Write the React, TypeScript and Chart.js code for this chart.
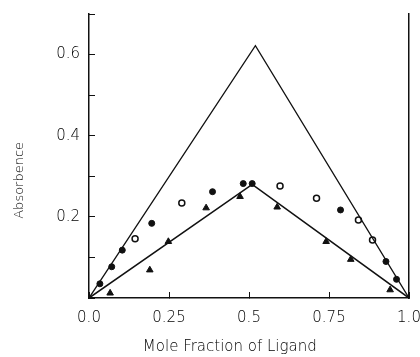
import React, { useEffect, useRef } from "react";
import { Chart, registerables } from "chart.js";

Chart.register(...registerables);

// Job's plot data (mole fraction of ligand vs absorbance)
const upperLineX = [0, 0.52, 1.0];
const upperLineY = [0, 0.622, 0];
const lowerLineX = [0, 0.51, 1.0];
const lowerLineY = [0, 0.28, 0];

const filledCircleX = [0.034, 0.071, 0.104, 0.196, 0.386, 0.482, 0.51, 0.786, 0.928, 0.961];
const filledCircleY = [0.035, 0.077, 0.118, 0.184, 0.262, 0.282, 0.282, 0.217, 0.09, 0.046];

const openCircleX = [0.144, 0.29, 0.597, 0.711, 0.842, 0.886];
const openCircleY = [0.146, 0.234, 0.276, 0.246, 0.192, 0.143];

const triangleX = [0.066, 0.19, 0.248, 0.366, 0.472, 0.588, 0.741, 0.818, 0.941];
const triangleY = [0.012, 0.069, 0.139, 0.222, 0.25, 0.224, 0.139, 0.095, 0.02];

const xTickValues = [0, 0.25, 0.5, 0.75, 1.0];
const xTickLabels = ["0.0", "0.25", "0.5", "0.75", "1.0"];
const yTickLabels: Record<string, string> = { "0.2": "0.2", "0.4": "0.4", "0.6": "0.6" };

const xTitle = "Mole Fraction of Ligand";
const yTitle = "Absorbence";

const FONT = "'DejaVu Sans', sans-serif";
const INK = "#111111";
const TEXT = "#000000";

const pts = (xs: number[], ys: number[]) => xs.map((x, i) => ({ x, y: ys[i] }));

const zeroPad = (s: any) => {
  s.paddingLeft = 0;
  s.paddingRight = 0;
  s.paddingTop = 0;
  s.paddingBottom = 0;
};

const titlePlugin = {
  id: "customTitles",
  afterDraw(chart: any) {
    const ctx = chart.ctx;
    const xs = chart.scales.x;
    const ys = chart.scales.y;
    const area = chart.chartArea;
    ctx.save();
    ctx.fillStyle = TEXT;
    ctx.font = `200 15px ${FONT}`;
    ctx.textAlign = "center";
    ctx.textBaseline = "middle";
    ctx.fillText(xTitle, xs.getPixelForValue(0.44), area.bottom + 49);
    ctx.translate(20, ys.getPixelForValue(0.29));
    ctx.rotate(-Math.PI / 2);
    ctx.font = `200 13px ${FONT}`;
    ctx.fillText(yTitle, 0, 0);
    ctx.restore();
  },
};

export default function App() {
  const ref = useRef<HTMLCanvasElement | null>(null);

  useEffect(() => {
    if (!ref.current) return;
    const chart = new Chart(ref.current, {
      type: "scatter",
      data: {
        datasets: [
          {
            data: pts(upperLineX, upperLineY),
            showLine: true,
            borderColor: INK,
            borderWidth: 1.3,
            pointRadius: 0,
            tension: 0,
          },
          {
            data: pts(lowerLineX, lowerLineY),
            showLine: true,
            borderColor: INK,
            borderWidth: 1.6,
            pointRadius: 0,
            tension: 0,
          },
          {
            data: pts(filledCircleX, filledCircleY),
            pointStyle: "circle",
            pointRadius: 3,
            backgroundColor: INK,
            borderColor: INK,
            borderWidth: 1,
          },
          {
            data: pts(openCircleX, openCircleY),
            pointStyle: "circle",
            pointRadius: 3,
            backgroundColor: "#ffffff",
            borderColor: INK,
            borderWidth: 1.5,
          },
          {
            data: pts(triangleX, triangleY),
            pointStyle: "triangle",
            pointRadius: 3.8,
            backgroundColor: INK,
            borderColor: INK,
            borderWidth: 1,
          },
        ],
      },
      plugins: [titlePlugin],
      options: {
        responsive: false,
        animation: false,
        events: [],
        layout: { padding: { top: 14, right: 0, bottom: 0, left: 0 } },
        plugins: { legend: { display: false }, tooltip: { enabled: false } },
        scales: {
          x: {
            type: "linear",
            min: 0,
            max: 1,
            afterFit: (s: any) => {
              s.height = 59;
              zeroPad(s);
            },
            afterBuildTicks: (s: any) => {
              s.ticks = xTickValues.map((v) => ({ value: v }));
            },
            ticks: {
              color: TEXT,
              font: { family: FONT, size: 15, weight: "200" },
              padding: 17,
              maxRotation: 0,
              autoSkip: false,
              callback: (v: any) => {
                const i = xTickValues.indexOf(Number(v));
                return i >= 0 ? xTickLabels[i] : "";
              },
            },
            grid: { drawOnChartArea: false, tickLength: -6, color: INK, lineWidth: 1 },
            border: { color: INK, width: 1.5 },
          },
          y: {
            type: "linear",
            min: 0,
            max: 0.7,
            afterFit: (s: any) => {
              s.width = 89;
              zeroPad(s);
            },
            ticks: {
              stepSize: 0.1,
              includeBounds: false,
              color: TEXT,
              font: { family: FONT, size: 15, weight: "200" },
              padding: 15,
              callback: (v: any) => yTickLabels[Number(v).toFixed(1)] ?? "",
            },
            grid: { drawOnChartArea: false, tickLength: -6, color: INK, lineWidth: 1 },
            border: { color: INK, width: 1.5 },
          },
          yR: {
            type: "linear",
            position: "right",
            min: 0,
            max: 0.7,
            afterFit: (s: any) => {
              s.width = 11;
              zeroPad(s);
            },
            ticks: { display: false },
            grid: { drawOnChartArea: false, drawTicks: false },
            border: { color: INK, width: 1.5 },
          },
        },
      },
    });
    return () => chart.destroy();
  }, []);

  return (
    <div style={{ position: "fixed", left: 0, top: 0, width: 420, height: 357, background: "#fff" }}>
      <canvas ref={ref} width={420} height={357} />
    </div>
  );
}
